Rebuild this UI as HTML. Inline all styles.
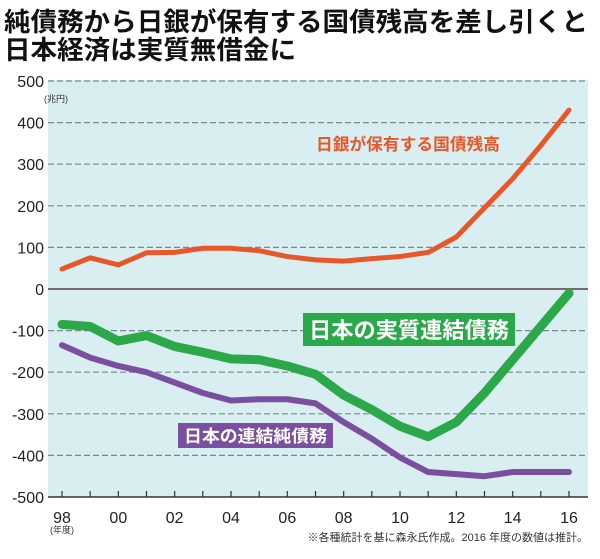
<!DOCTYPE html>
<html><head><meta charset="utf-8"><style>
body{margin:0;background:#fff;font-family:"Liberation Sans","Noto Sans CJK JP",sans-serif}
</style></head><body>
<svg width="600" height="559" xmlns="http://www.w3.org/2000/svg" style="display:block">
<text x="4" y="31" font-size="26" font-weight="bold" fill="#111" font-family="Noto Sans CJK JP,sans-serif" textLength="584" lengthAdjust="spacingAndGlyphs">純債務から日銀が保有する国債残高を差し引くと</text>
<text x="4" y="59" font-size="26" font-weight="bold" fill="#111" font-family="Noto Sans CJK JP,sans-serif" textLength="292" lengthAdjust="spacingAndGlyphs">日本経済は実質無借金に</text>
<rect x="48" y="80" width="540" height="417" fill="#d8eef0"/>
<g id="grid"></g><g id="lines"></g>
<text x="316" y="150" font-size="16.5" font-weight="bold" fill="#e8572a" font-family="Noto Sans CJK JP,sans-serif" textLength="184" lengthAdjust="spacingAndGlyphs">日銀が保有する国債残高</text>
<rect x="303" y="313" width="212" height="33" fill="#2aa84a"/>
<text x="309" y="338" font-size="22" font-weight="bold" fill="#fff" font-family="Noto Sans CJK JP,sans-serif" textLength="200" lengthAdjust="spacingAndGlyphs">日本の実質連結債務</text>
<rect x="178" y="423" width="155" height="25" fill="#7b4fa0"/>
<text x="184" y="442" font-size="17" font-weight="bold" fill="#fff" font-family="Noto Sans CJK JP,sans-serif" textLength="143" lengthAdjust="spacingAndGlyphs">日本の連結純債務</text>
<text x="44" y="102" font-size="9" fill="#333">(兆円)</text>
<text x="50" y="533" font-size="9" fill="#333">(年度)</text>
<text x="588" y="541" font-size="11" fill="#333" text-anchor="end">※各種統計を基に森永氏作成。2016 年度の数値は推計。</text>
</svg>
<script>
const years=[98,99,0,1,2,3,4,5,6,7,8,9,10,11,12,13,14,15,16];
const boj=[48,75,58,87,88,98,98,92,78,70,67,73,78,88,125,195,265,345,430];
const realDebt=[-85,-90,-125,-112,-138,-152,-168,-170,-185,-205,-255,-290,-330,-355,-320,-250,-170,-90,-10];
const netDebt=[-135,-165,-185,-200,-225,-250,-268,-265,-265,-275,-320,-360,-405,-440,-445,-450,-440,-440,-440];
const yTicks=[500,400,300,200,100,0,-100,-200,-300,-400,-500];
const xLabels=["98","00","02","04","06","08","10","12","14","16"];
const NS="http://www.w3.org/2000/svg";
const xs=i=>62+i*(569-62)/18;
const ys=v=>289-v*0.416;
const g=document.getElementById('grid'),L=document.getElementById('lines');
function mk(t,a,p){const e=document.createElementNS(NS,t);for(const k in a)e.setAttribute(k,a[k]);(p||g).appendChild(e);return e;}
yTicks.forEach(v=>{
 const y=ys(v);
 if(v!==0&&v!==-500){const l=mk('line',{x1:48,x2:588,y1:y,y2:y,stroke:'#7a8a90','stroke-width':1.2,'stroke-dasharray':'6,3'});
 
 }
 const t=mk('text',{x:44,y:y+6,'font-size':16,fill:'#222','text-anchor':'end'});t.textContent=v;
 
 
});
const z=mk('line',{x1:48,x2:588,y1:ys(0),y2:ys(0),stroke:'#7a6670','stroke-width':2});


const ax=mk('line',{x1:48,x2:588,y1:ys(-500),y2:ys(-500),stroke:'#333','stroke-width':1.5});


years.forEach((yr,i)=>{const tk=mk('line',{x1:xs(i),x2:xs(i),y1:ys(-500)-6,y2:ys(-500),stroke:'#333','stroke-width':1.2});

});
xLabels.forEach((s,j)=>{const t=mk('text',{x:xs(j*2),y:523,'font-size':16,fill:'#222','text-anchor':'middle'});t.textContent=s;

});
function line(d,c,w,n){const p=mk('polyline',{points:d.map((v,i)=>xs(i)+','+ys(v)).join(' '),fill:'none',stroke:c,'stroke-width':w,'stroke-linejoin':'round','stroke-linecap':'round'},L);

}
line(netDebt,'#7b4fa0',6,'line-net-debt');
line(realDebt,'#2aa84a',9,'line-real-debt');
line(boj,'#e8572a',5,'line-boj-holdings');
</script>
</body></html>
